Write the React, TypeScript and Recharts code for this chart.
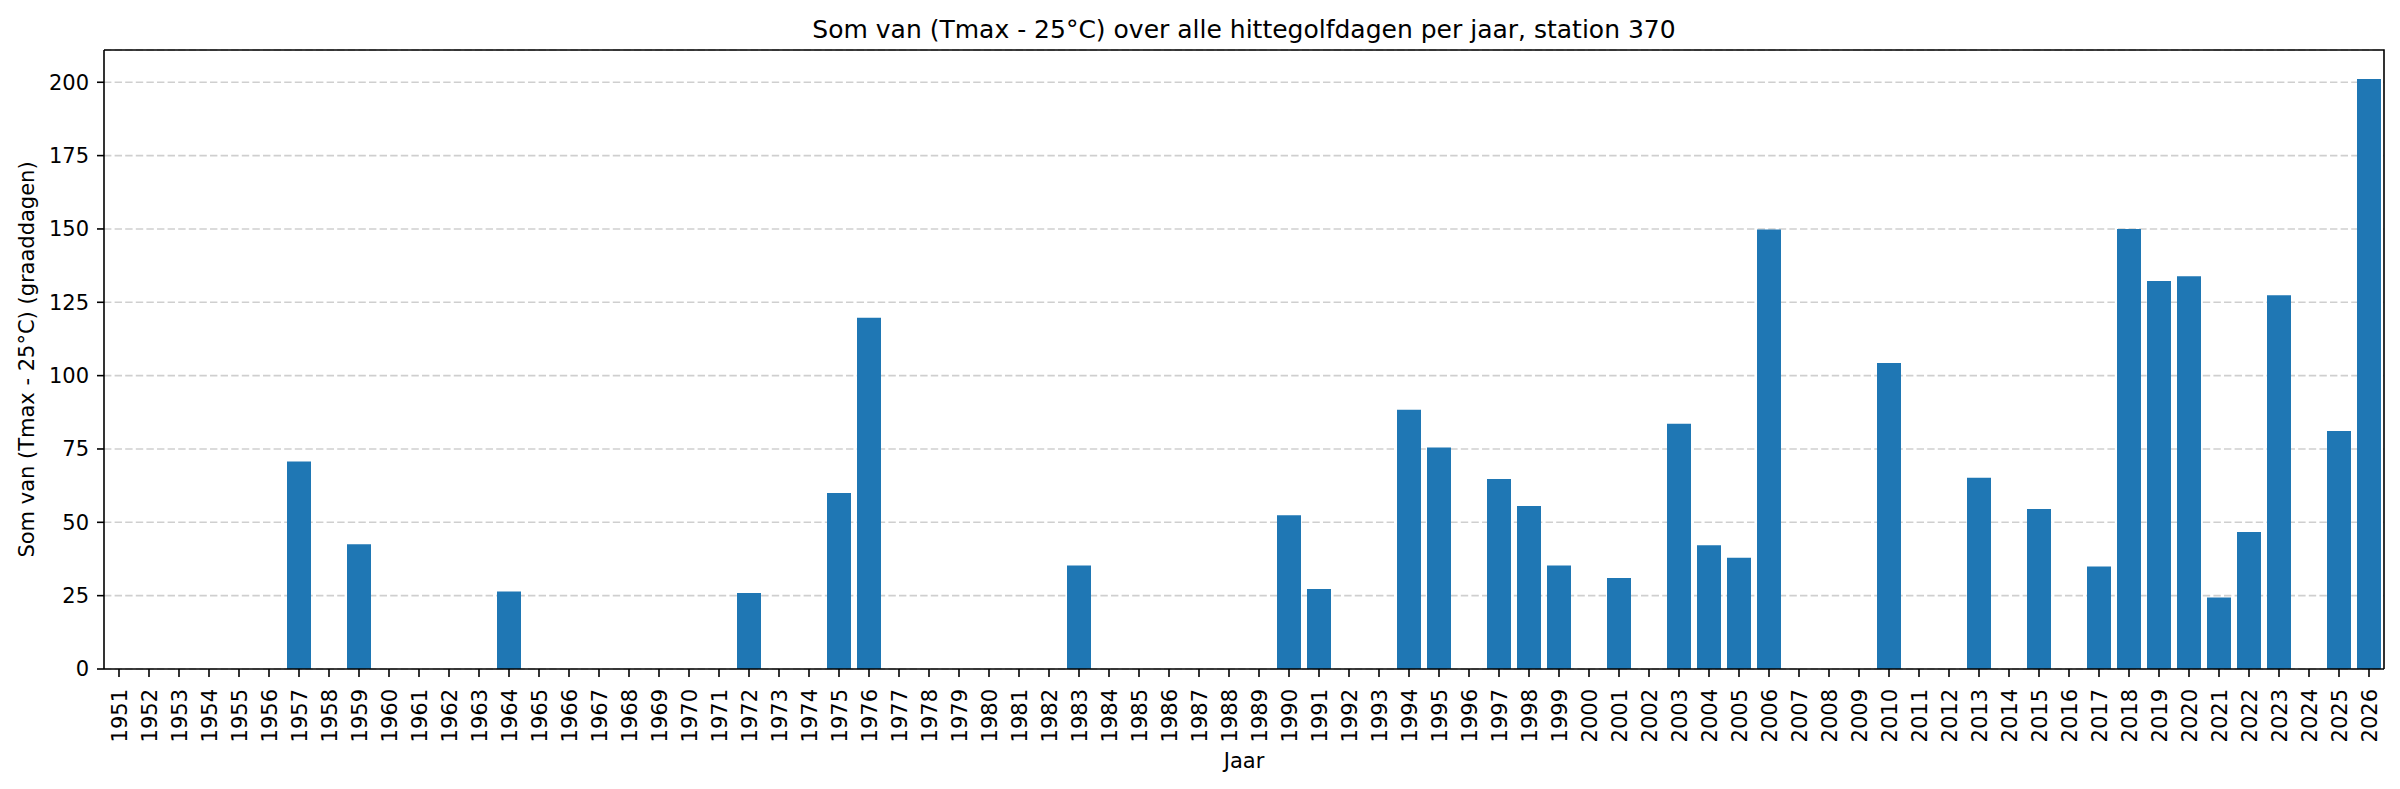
import { Bar, BarChart, CartesianGrid, XAxis, YAxis } from 'recharts';

document.body.style.margin = '0';

const years = [
  '1951', '1952', '1953', '1954', '1955', '1956', '1957', '1958', '1959', '1960',
  '1961', '1962', '1963', '1964', '1965', '1966', '1967', '1968', '1969', '1970',
  '1971', '1972', '1973', '1974', '1975', '1976', '1977', '1978', '1979', '1980',
  '1981', '1982', '1983', '1984', '1985', '1986', '1987', '1988', '1989', '1990',
  '1991', '1992', '1993', '1994', '1995', '1996', '1997', '1998', '1999', '2000',
  '2001', '2002', '2003', '2004', '2005', '2006', '2007', '2008', '2009', '2010',
  '2011', '2012', '2013', '2014', '2015', '2016', '2017', '2018', '2019', '2020',
  '2021', '2022', '2023', '2024', '2025', '2026',
]

// som van (Tmax - 25) per jaar
const graaddagen = [
  0, 0, 0, 0, 0, 0, 70.7, 0, 42.5, 0,
  0, 0, 0, 26.4, 0, 0, 0, 0, 0, 0,
  0, 25.9, 0, 0, 60.0, 119.7, 0, 0, 0, 0,
  0, 0, 35.3, 0, 0, 0, 0, 0, 0, 52.4,
  27.3, 0, 0, 88.4, 75.5, 0, 64.8, 55.6, 35.3, 0,
  31.0, 0, 83.6, 42.2, 37.9, 149.8, 0, 0, 0, 104.3,
  0, 0, 65.2, 0, 54.5, 0, 34.9, 150.0, 132.3, 133.9,
  24.4, 46.7, 127.4, 0, 81.1, 201.1,
]

const yTicks = [0, 25, 50, 75, 100, 125, 150, 175, 200]

const data = years.map((year, i) => ({ year, value: graaddagen[i] }))

const FONT = '"DejaVu Sans", sans-serif'
const W = 2400
const H = 789
const margin = { top: 50, right: 16, bottom: 0, left: 0 }
const yAxisWidth = 104
const xAxisHeight = 120

const axisLine = { stroke: '#000', strokeWidth: 1.6 }

function YearTick({ x, y, payload }: any) {
  return (
    <g transform={`translate(${x},${y})`}>
      <text transform="rotate(-90)" textAnchor="end" dy="0.36em" fontSize={21} fontFamily={FONT} fill="#000">
        {payload.value}
      </text>
    </g>
  )
}

export default function App() {
  const plotLeft = margin.left + yAxisWidth
  const plotRight = W - margin.right
  const plotTop = margin.top
  const plotBottom = H - margin.bottom - xAxisHeight
  const cx = (plotLeft + plotRight) / 2
  const cy = (plotTop + plotBottom) / 2

  return (
    <div style={{ position: 'relative', width: W, height: H, background: '#fff' }}>
      <BarChart width={W} height={H} data={data} margin={margin} barCategoryGap="10%">
        <CartesianGrid vertical={false} stroke="#cfcfcf" strokeWidth={1.6} strokeDasharray="7.4 3.2" />
        <XAxis
          dataKey="year"
          interval={0}
          height={xAxisHeight}
          axisLine={axisLine}
          tickLine={{ stroke: '#000', strokeWidth: 1.6 }}
          tickSize={8}
          tickMargin={12}
          tick={<YearTick />}
        />
        <YAxis
          domain={[0, 211]}
          ticks={yTicks}
          width={yAxisWidth}
          axisLine={axisLine}
          tickLine={{ stroke: '#000', strokeWidth: 1.6 }}
          tickSize={7}
          tickMargin={8}
          tick={{ fontSize: 21, fill: '#000', fontFamily: FONT }}
        />
        <Bar dataKey="value" fill="#1f77b4" isAnimationActive={false} />
      </BarChart>
      <svg width={W} height={H} style={{ position: 'absolute', left: 0, top: 0, pointerEvents: 'none' }}>
        {/* frame: top and right spines */}
        <path
          d={`M${plotLeft},${plotTop} H${plotRight} V${plotBottom}`}
          fill="none"
          stroke="#000"
          strokeWidth={1.6}
        />
        <text x={cx} y={38} textAnchor="middle" fontSize={25} fontFamily={FONT} fill="#000">
          Som van (Tmax - 25°C) over alle hittegolfdagen per jaar, station 370
        </text>
        <text
          transform={`translate(26,${cy}) rotate(-90)`}
          textAnchor="middle"
          dy="0.36em"
          fontSize={21}
          fontFamily={FONT}
          fill="#000"
        >
          Som van (Tmax - 25°C) (graaddagen)
        </text>
        <text x={cx} y={768} textAnchor="middle" fontSize={21} fontFamily={FONT} fill="#000">
          Jaar
        </text>
      </svg>
    </div>
  )
}
